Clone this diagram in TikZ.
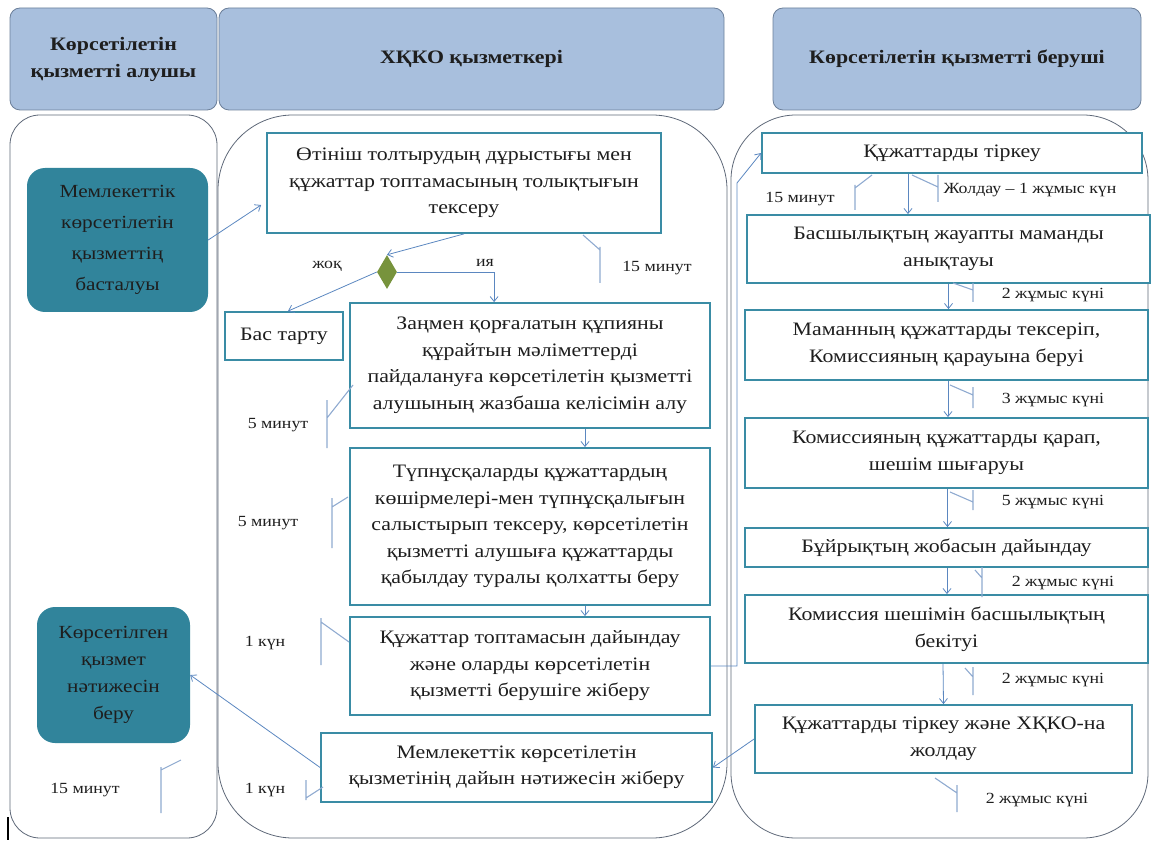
\documentclass[tikz,border=0pt]{standalone}
\usepackage{fontspec}
\setmainfont[FakeStretch=1.15]{Liberation Serif}
\usetikzlibrary{shapes.geometric,arrows.meta,calc}
\definecolor{hdrfill}{HTML}{A8BFDD}
\definecolor{hdrdraw}{HTML}{6B7F99}
\definecolor{lanedraw}{HTML}{5E6878}
\definecolor{tealfill}{HTML}{31849B}
\definecolor{boxdraw}{HTML}{3A8CA5}
\definecolor{arrc}{HTML}{5B87C0}
\definecolor{brc}{HTML}{8FAAD0}
\definecolor{dgreen}{HTML}{77933C}
\definecolor{txt}{HTML}{1E1E1E}
\begin{document}
\begin{tikzpicture}[x=1pt,y=-1pt,
  hdr/.style={draw=hdrdraw, fill=hdrfill, rounded corners=10pt, line width=0.8pt, font=\bfseries\fontsize{19}{25}\selectfont, align=center, inner sep=0pt, text=txt},
  lane/.style={draw=lanedraw, line width=0.8pt, inner sep=0pt},
  tbox/.style={draw=boxdraw, line width=1.8pt, fill=white, align=center, inner sep=0pt, font=\fontsize{19}{26.5}\selectfont, text=txt},
  term/.style={fill=tealfill, rounded corners=18pt, align=center, inner sep=0pt, font=\fontsize{18.5}{31}\selectfont, text=txt},
  arr/.style={draw=arrc, line width=0.8pt, -{Straight Barb[length=5pt,width=8pt]}},
  brk/.style={draw=brc, line width=1.1pt},
  lbl/.style={font=\fontsize{15.5}{18}\selectfont, text=txt, inner sep=1pt}]
\useasboundingbox (0,0) rectangle (1151,842);
% lanes
\node[lane, rounded corners=30pt, minimum width=207pt, minimum height=723pt] (lane1) at (113.5,476.5) {};
\node[lane, rounded corners=75pt, minimum width=509pt, minimum height=723pt] (lane2) at (472.5,476.5) {};
\node[lane, rounded corners=65pt, minimum width=417pt, minimum height=723pt] (lane3) at (939.5,476.5) {};
% headers
\node[hdr, minimum width=207pt, minimum height=102pt, font=\bfseries\fontsize{19}{27}\selectfont] (h1) at (113.5,59) {Көрсетілетін\\қызметті алушы};
\node[hdr, minimum width=505pt, minimum height=102pt] (h2) at (471.5,59) {ХҚКО қызметкері};
\node[hdr, minimum width=368pt, minimum height=102pt] (h3) at (957,59) {Көрсетілетін қызметті беруші};
% lane 1
\node[term, minimum width=181pt, minimum height=144pt] (start) at (117.5,240) {Мемлекеттік\\көрсетілетін\\қызметтің\\басталуы};
\node[term, minimum width=153pt, minimum height=136pt, font=\fontsize{18.5}{27}\selectfont] (end) at (113.5,675) {Көрсетілген\\қызмет\\нәтижесін\\беру};
% lane 2
\node[tbox, minimum width=394pt, minimum height=100pt] (b1) at (464,183) {Өтініш толтырудың дұрыстығы мен\\құжаттар топтамасының толықтығын\\тексеру};
\node[diamond, fill=dgreen, minimum width=20pt, minimum height=34pt, inner sep=0pt] (dia) at (387,272) {};
\node[tbox, minimum width=118pt, minimum height=48pt] (bt) at (284,336) {Бас тарту};
\node[tbox, minimum width=360pt, minimum height=125pt] (b2) at (530,365.5) {Заңмен қорғалатын құпияны\\құрайтын мәліметтерді\\пайдалануға көрсетілетін қызметті\\алушының жазбаша келісімін алу};
\node[tbox, minimum width=360pt, minimum height=157pt] (b3) at (530,526.5) {Түпнұсқаларды құжаттардың\\көшірмелері-мен түпнұсқалығын\\салыстырып тексеру, көрсетілетін\\қызметті алушыға құжаттарды\\қабылдау туралы қолхатты беру};
\node[tbox, minimum width=360pt, minimum height=98pt] (b4) at (530,666) {Құжаттар топтамасын дайындау\\және оларды көрсетілетін\\қызметті берушіге жіберу};
\node[tbox, minimum width=391pt, minimum height=69pt] (b5) at (516.5,767.5) {Мемлекеттік көрсетілетін\\қызметінің дайын нәтижесін жіберу};
% lane 3
\node[tbox, minimum width=380pt, minimum height=40pt] (r1) at (952,153) {Құжаттарды тіркеу};
\node[tbox, minimum width=403pt, minimum height=68pt] (r2) at (948.5,249) {Басшылықтың жауапты маманды\\анықтауы};
\node[tbox, minimum width=403pt, minimum height=70pt] (r3) at (946.5,345) {Маманның құжаттарды тексеріп,\\Комиссияның қарауына беруі};
\node[tbox, minimum width=403pt, minimum height=70pt] (r4) at (946.5,453) {Комиссияның құжаттарды қарап,\\шешім шығаруы};
\node[tbox, minimum width=403pt, minimum height=39pt] (r5) at (946.5,547.5) {Бұйрықтың жобасын дайындау};
\node[tbox, minimum width=403pt, minimum height=68pt] (r6) at (946.5,629) {Комиссия шешімін басшылықтың\\бекітуі};
\node[tbox, minimum width=377pt, minimum height=68pt] (r7) at (943.5,739) {Құжаттарды тіркеу және ХҚКО-на\\жолдау};
% connectors
\draw[arr] (start.east) -- ($(b1.west)+(-5,22)$);
\draw[arr] (b1.south) -- (dia.north);
\draw[arr] (dia.east) -| ($(b2.north west)+(145,0)$);
\draw[arr] (dia.west) -- ($(bt.north)+(4,0)$);
\draw[arr] ($(b2.south)+(55,0)$) -- ($(b3.north)+(55,0)$);
\draw[arr] ($(b3.south)+(55,0)$) -- ($(b4.north)+(55,0)$);
\coordinate (k1) at (737,183);
\draw[arr] (b4.east) -| (k1) -- (r1.west);
\draw[arr] ($(r1.south)+(-44,0)$) -- ($(r2.north)+(-40.5,0)$);
\draw[arr] (r2.south) -- ($(r3.north)+(2,0)$);
\draw[arr] ($(r3.south)+(1.5,0)$) -- ($(r4.north)+(1.5,0)$);
\draw[arr] ($(r4.south)+(1,0)$) -- ($(r5.north)+(1,0)$);
\draw[arr] ($(r5.south)+(0.5,0)$) -- ($(r6.north)+(0.5,0)$);
\draw[arr] ($(r6.south)+(-3.5,0)$) -- (r7.north);
\draw[arr] (r7.west) -- (b5.east);
\draw[arr] (b5.west) -- (end.east);
% labels
\node[lbl] (l1) at (327,266) {жоқ};
\node[lbl] (l2) at (485,263) {ия};
\node[lbl] (l3) at (657,268) {15 минут};
\node[lbl] (l4) at (800,199) {15 минут};
\node[lbl] (l5) at (1030,190) {Жолдау – 1 жұмыс күн};
\node[lbl] (l6) at (1053,295) {2 жұмыс күні};
\node[lbl] (l7) at (1053,400) {3 жұмыс күні};
\node[lbl] (l8) at (1053,502) {5 жұмыс күні};
\node[lbl] (l9) at (1063,583) {2 жұмыс күні};
\node[lbl] (l10) at (1053,680) {2 жұмыс күні};
\node[lbl] (l11) at (1037,800) {2 жұмыс күні};
\node[lbl] (l12) at (278,425) {5 минут};
\node[lbl] (l13) at (268,523) {5 минут};
\node[lbl] (l14) at (265,643) {1 күн};
\node[lbl] (l15) at (265,790) {1 күн};
\node[lbl] (l16) at (85,790) {15 минут};
% time brackets
\draw[brk] (583,235) -- (600,250) (600,247) -- (600,283);
\draw[brk] (872,175) -- (855,188) (855,185) -- (855,210);
\draw[brk] (912,175) -- (938,187) (938,175) -- (938,202);
\draw[brk] (953,283) -- (973,290) (973,283) -- (973,302);
\draw[brk] (950,385) -- (973,395) (973,387) -- (973,408);
\draw[brk] (950,492) -- (973,502) (973,490) -- (973,510);
\draw[brk] (975,570) -- (982,578) (982,567) -- (982,597);
\draw[brk] (965,668) -- (973,677) (973,667) -- (973,695);
\draw[brk] (935,778) -- (957,793) (957,785) -- (957,812);
\draw[brk] (353,385) -- (327,418) (327,400) -- (327,448);
\draw[brk] (348,497) -- (332,507) (332,498) -- (332,548);
\draw[brk] (349,642) -- (321,622) (321,618) -- (321,665);
\draw[brk] (323,787) -- (306,798) (306,780) -- (306,800);
\draw[brk] (181,760) -- (161,770) (161,767) -- (161,813);
\draw[black, line width=1.2pt] (8,817) -- (8,840);
\end{tikzpicture}
\end{document}
